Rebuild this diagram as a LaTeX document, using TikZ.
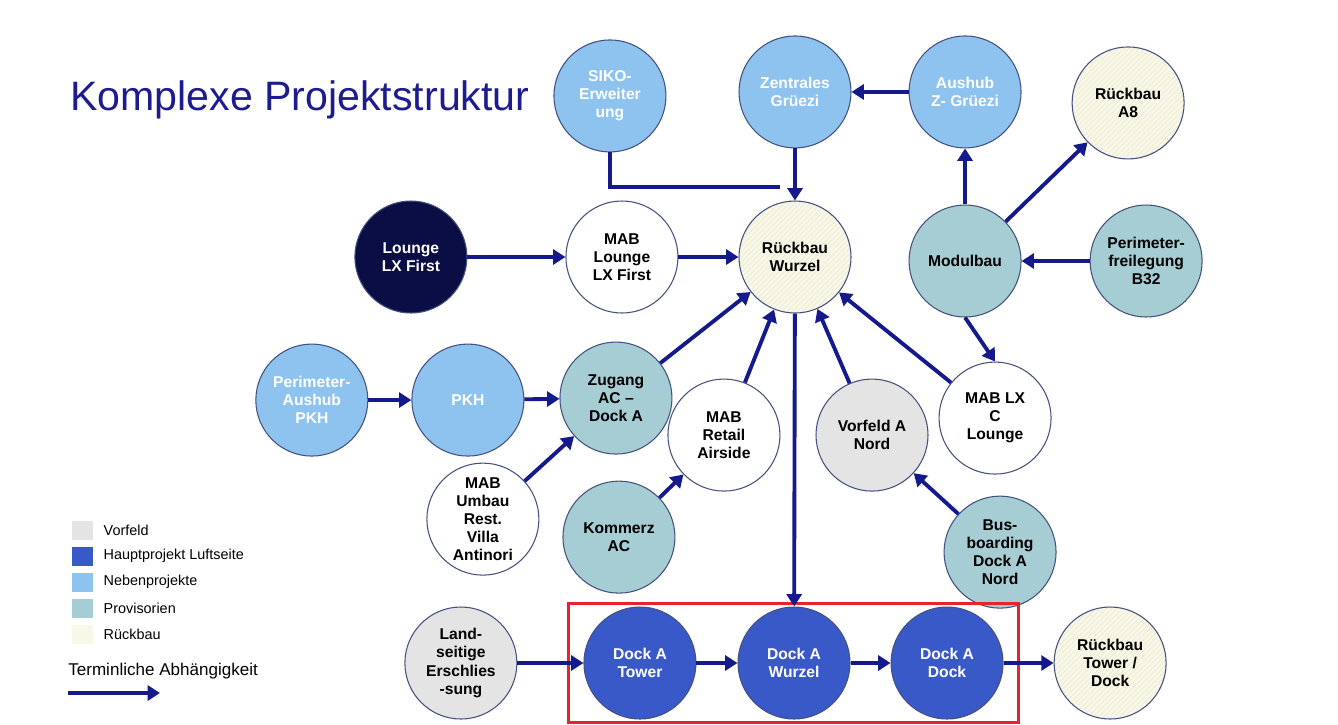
\documentclass[tikz,border=0pt]{standalone}
\usepackage{fontspec}
\setmainfont{Liberation Sans}
\usetikzlibrary{arrows.meta, positioning, fit, patterns}

\definecolor{depcol}{HTML}{141A8C}
\definecolor{titlecol}{HTML}{1C1C8E}
\definecolor{rimcol}{HTML}{435080}
\definecolor{nebencol}{HTML}{8DC3EE}
\definecolor{provcol}{HTML}{A5CDD3}
\definecolor{vorfcol}{HTML}{E4E4E4}
\definecolor{rueckcol}{HTML}{F8F7E8}
\definecolor{rueckline}{HTML}{ECEBD4}
\definecolor{hauptcol}{HTML}{3A59C9}
\definecolor{dunkelcol}{HTML}{0B0E45}
\definecolor{redcol}{HTML}{E8232B}

\tikzset{
    proj/.style={
        circle,
        draw=rimcol,
        line width=0.6pt,
        minimum size=2.24cm,
        inner sep=0pt,
        align=center,
        font=\fontsize{8.9}{10.3}\selectfont\bfseries
    },
    neben/.style={proj, fill=nebencol, text=white},
    prov/.style={proj, fill=provcol},
    vorf/.style={proj, fill=vorfcol},
    rueck/.style={
        proj,
        preaction={fill=rueckcol},
        pattern=north east lines,
        pattern color=rueckline
    },
    haupt/.style={proj, fill=hauptcol, text=white},
    dunkel/.style={proj, fill=dunkelcol, text=white},
    weiss/.style={proj, fill=white},
    dep/.style={
        draw=depcol,
        line width=2.2pt,
        -{Triangle[length=7pt,width=8.5pt]}
    },
    redbox/.style={
        draw=redcol,
        line width=1.7pt,
        inner ysep=0.06cm,
        inner xsep=0.30cm
    },
    legbox/.style={
        rectangle,
        minimum width=0.42cm,
        minimum height=0.38cm,
        inner sep=0pt
    },
    legtext/.style={
        inner sep=0pt,
        anchor=west,
        font=\fontsize{8.2}{10}\selectfont
    }
}

\begin{document}
\begin{tikzpicture}
\useasboundingbox (0,0) rectangle (26.76,-14.48);

% Title
\node[anchor=base west, text=titlecol, font=\fontsize{23.4}{28}\selectfont] (title) at (1.28,-2.20) {Komplexe Projektstruktur};

% Upper part
\node[rueck] (wurzel) at (15.90,-5.14) {Rückbau\\Wurzel};
\node[weiss, left=1.20cm of wurzel] (mablounge) {MAB\\Lounge\\LX First};
\node[dunkel, left=1.96cm of mablounge] (lounge) {Lounge\\LX First};
\node[neben, above=1.04cm of wurzel] (zentral) {Zentrales\\Grüezi};
\node[neben, right=1.14cm of zentral] (aushub) {Aushub\\Z- Grüezi};
\node[neben, left=1.44cm of zentral, yshift=-0.08cm] (siko) {SIKO-\\Erweiter\\ung};
\node[rueck, right=1.0cm of aushub, yshift=-0.22cm] (rbA8) {Rückbau\\A8};
\node[prov, below=1.12cm of aushub] (modulbau) {Modulbau};
\node[prov, right=1.36cm of modulbau] (b32) {Perimeter-\\freilegung\\B32};

% Middle part
\node[weiss, below=0.88cm of modulbau, xshift=0.6cm] (mablx) {MAB LX\\C\\Lounge};
\node[prov, below=0.42cm of mablx, xshift=0.1cm] (bus) {Bus-\\boarding\\Dock A\\Nord};
\node[vorf, left=0.20cm of mablx, yshift=-0.34cm] (vorfeld) {Vorfeld A\\Nord};
\node[weiss, left=0.70cm of vorfeld] (retail) {MAB\\Retail\\Airside};
\node[prov, below=0.56cm of mablounge, xshift=-0.12cm] (zugang) {Zugang\\AC --\\Dock A};
\node[neben, left=0.70cm of zugang, yshift=-0.04cm] (pkh) {PKH};
\node[neben, left=0.86cm of pkh] (peripkh) {Perimeter-\\Aushub\\PKH};
\node[weiss, below=0.12cm of pkh, xshift=0.30cm] (umbau) {MAB\\Umbau\\Rest.\\Villa\\Antinori};
\node[prov, below=0.52cm of zugang, xshift=0.06cm] (kommerz) {Kommerz\\AC};

% Main project row
\node[haupt] (dwurzel) at (15.88,-13.26) {Dock A\\Wurzel};
\node[haupt, left=0.82cm of dwurzel] (dtower) {Dock A\\Tower};
\node[haupt, right=0.80cm of dwurzel] (ddock) {Dock A\\Dock};
\node[vorf, left=1.32cm of dtower] (land) {Land-\\seitige\\Erschlies\\-sung};
\node[rueck, right=1.00cm of ddock] (rbtower) {Rückbau\\Tower /\\Dock};
\node[redbox, fit=(dtower)(ddock)] (focus) {};

% Dependencies
\coordinate (sikoend) at (15.60,-3.74);
\draw[dep, -] (siko.south) |- (sikoend);
\draw[dep] (zentral) -- (wurzel);
\draw[dep] (aushub) -- (zentral);
\draw[dep] (modulbau) -- (aushub);
\draw[dep] (modulbau) -- (rbA8);
\draw[dep] (b32) -- (modulbau);
\draw[dep] (modulbau.south) -- (mablx.north);
\draw[dep] (mablx) -- (wurzel);
\draw[dep] (vorfeld) -- (wurzel);
\draw[dep] (bus) -- (vorfeld);
\draw[dep] (retail) -- (wurzel);
\draw[dep] (kommerz) -- (retail);
\draw[dep] (zugang) -- (wurzel);
\draw[dep] (lounge) -- (mablounge);
\draw[dep] (mablounge) -- (wurzel);
\draw[dep] (peripkh) -- (pkh);
\draw[dep] (pkh) -- (zugang);
\draw[dep] (umbau) -- (zugang);
\draw[dep] (wurzel) -- (dwurzel);
\draw[dep] (land) -- (dtower);
\draw[dep] (dtower) -- (dwurzel);
\draw[dep] (dwurzel) -- (ddock);
\draw[dep] (ddock) -- (rbtower);

% Legend
\foreach \c/\txt [count=\i] in {vorfcol/Vorfeld, hauptcol/Hauptprojekt Luftseite, nebencol/Nebenprojekte, provcol/Provisorien, rueckcol/Rückbau}{
    \node[legbox, fill=\c] (leg\i) at (1.65,-10.08-0.52*\i) {};
    \node[legtext, right=0.20cm of leg\i] (legt\i) {\txt};
}
\node[legtext, font=\fontsize{9.7}{12}\selectfont] (deplegend) at (1.36,-13.42) {Terminliche Abhängigkeit};
\coordinate (depA) at (1.36,-13.86);
\coordinate (depB) at (3.20,-13.86);
\draw[dep] (depA) -- (depB);

\end{tikzpicture}
\end{document}
